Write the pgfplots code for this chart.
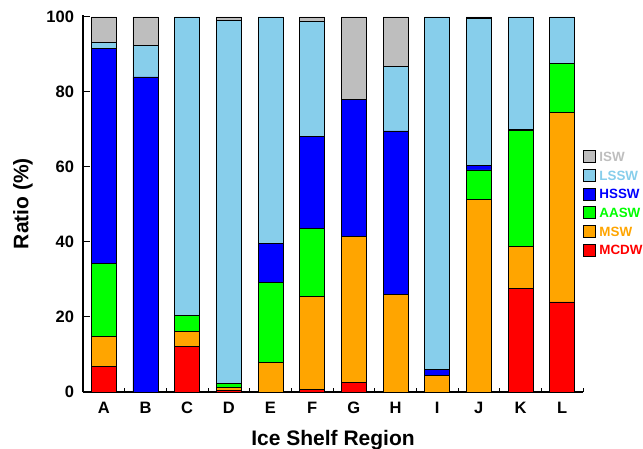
\documentclass[border=0pt]{standalone}
\usepackage{pgfplots}
\pgfplotsset{compat=1.18}
\usepackage{pgfplotstable}
\usepackage{fontspec}
\setmainfont{Liberation Sans}
\definecolor{iswc}{RGB}{190,190,190}
\definecolor{lsswc}{RGB}{135,206,235}
\definecolor{hsswc}{RGB}{0,0,255}
\definecolor{aaswc}{RGB}{0,255,0}
\definecolor{mswc}{RGB}{255,165,0}
\definecolor{mcdwc}{RGB}{255,0,0}
\pgfplotstableread{
idx MCDW MSW AASW HSSW LSSW ISW
0 6.8 8.1 19.4 57.2 1.6 6.9
1 0 0 0 84.0 8.4 7.6
2 12.1 4.0 4.4 0 79.5 0
3 0.4 0.85 1.05 0 96.7 1.0
4 0 7.9 21.2 10.4 60.5 0
5 0.7 24.8 18.0 24.7 30.7 1.1
6 2.6 38.9 0 36.4 0 22.1
7 0 26.1 0 43.5 17.1 13.3
8 0 4.3 0 1.7 94.0 0
9 0 51.4 7.8 1.3 39.0 0.5
10 27.6 11.2 30.9 0.4 29.9 0
11 24.0 50.6 13.1 0 12.3 0
}\datatable
\newcommand{\legtxt}[2]{\raisebox{3bp}{\textcolor{#1}{#2}}}
\begin{document}
\begin{tikzpicture}
\useasboundingbox (-83bp,-57bp) rectangle (560bp,392bp);
\begin{axis}[
  at={(0,0)}, anchor=south west,
  scale only axis, width=500bp, height=376.9bp,
  xmin=-0.5, xmax=11.5, ymin=0, ymax=100.5,
  ybar stacked, bar width=25bp,
  axis x line*=bottom, axis y line*=left,
  axis line style={line width=1.2bp, black},
  xtick={0,1,2,3,4,5,6,7,8,9,10,11},
  xticklabels={A,B,C,D,E,F,G,H,I,J,K,L},
  minor xtick={0.5,1.5,2.5,3.5,4.5,5.5,6.5,7.5,8.5,9.5,10.5,11.5},
  ytick={0,20,40,60,80,100},
  tick align=inside,
  major tick length=7bp, minor tick length=4bp,
  tick style={line width=1bp, black},
  major x tick style={draw=none},
  /pgf/number format/assume math mode=true,
  tick label style={font=\fontsize{16.5bp}{19bp}\selectfont\bfseries},
  yticklabel style={xshift=-5.5bp},
  xticklabel style={yshift=-6.5bp},
  xlabel={Ice Shelf Region},
  ylabel={Ratio (\%)},
  every axis x label/.style={at={(axis description cs:0.5,0)}, yshift=-53bp, anchor=base, font=\fontsize{21bp}{24bp}\selectfont\bfseries},
  every axis y label/.style={at={(axis description cs:0,0.5)}, xshift=-54.7bp, rotate=90, anchor=base, font=\fontsize{21bp}{24bp}\selectfont\bfseries},
  reverse legend,
  legend cell align=left,
  legend style={draw=none, fill=none, at={(1,0.641)}, anchor=north west,
    inner sep=0pt, outer sep=0pt, row sep=3.6bp,
    font=\fontsize{13.4bp}{15bp}\selectfont\bfseries,
    nodes={inner sep=1bp, text height=9.6bp, text depth=0bp},
    /tikz/every odd column/.append style={column sep=3bp}},
  legend image code/.code={\draw[#1, draw=black, line width=0.9bp] (0bp,-3.2bp) rectangle (11.5bp,8.8bp);},
]
\addplot[fill=mcdwc, draw=black, line width=0.8bp] table[x=idx,y=MCDW]{\datatable};
\addlegendentry{\legtxt{mcdwc}{MCDW}}
\addplot[fill=mswc, draw=black, line width=0.8bp] table[x=idx,y=MSW]{\datatable};
\addlegendentry{\legtxt{mswc}{MSW}}
\addplot[fill=aaswc, draw=black, line width=0.8bp] table[x=idx,y=AASW]{\datatable};
\addlegendentry{\legtxt{aaswc}{AASW}}
\addplot[fill=hsswc, draw=black, line width=0.8bp] table[x=idx,y=HSSW]{\datatable};
\addlegendentry{\legtxt{hsswc}{HSSW}}
\addplot[fill=lsswc, draw=black, line width=0.8bp] table[x=idx,y=LSSW]{\datatable};
\addlegendentry{\legtxt{lsswc}{LSSW}}
\addplot[fill=iswc, draw=black, line width=0.8bp] table[x=idx,y=ISW]{\datatable};
\addlegendentry{\legtxt{iswc}{ISW}}
\end{axis}
\end{tikzpicture}
\end{document}
